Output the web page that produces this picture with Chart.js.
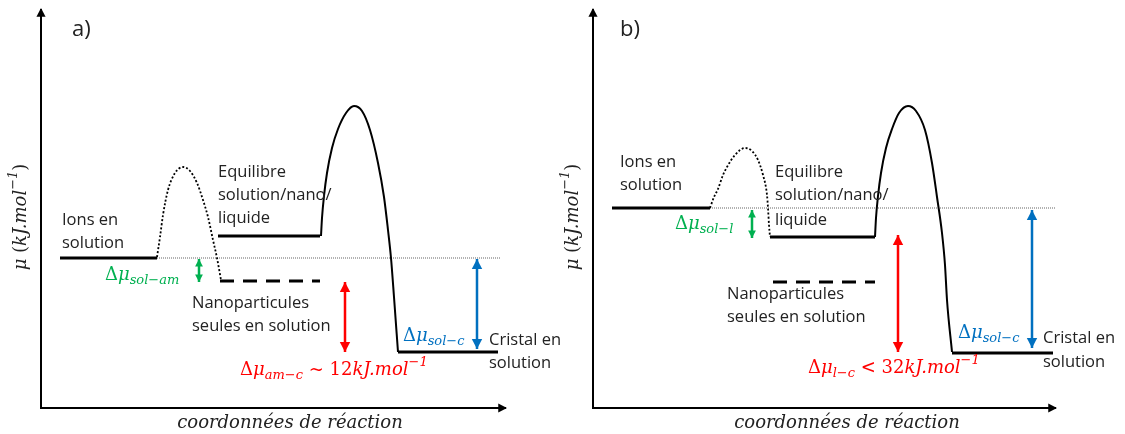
<!DOCTYPE html>
<html>
<head>
<meta charset="utf-8">
<script src="https://cdn.jsdelivr.net/npm/chart.js@4"></script>
<style>
  body { margin: 0; background: #fff; width: 1125px; height: 434px; overflow: hidden; position: relative; }
  .panel { position: absolute; top: 0; height: 434px; }
  #wrapA { left: 0; width: 560px; }
  #wrapB { left: 552px; width: 573px; }
</style>
</head>
<body>
<div class="panel" id="wrapA"><canvas id="chartA" width="560" height="434"></canvas></div>
<div class="panel" id="wrapB"><canvas id="chartB" width="573" height="434"></canvas></div>
<script>
// units: x = reaction coordinate, y = mu (schematic, from the axes origin)

// panel a)
const ionsA = [[19, 150], [116, 150]];
const smallBarrierA = [[116, 151], [119, 171], [122, 193], [127, 218], [134, 235], [142, 241], [149, 237], [156, 225], [162, 208], [167, 191], [172, 168], [176, 150], [180, 128]];
const equilibreA = [[177, 172], [279, 172]];
const bigBarrierA = [[280, 172], [281, 190], [283, 212], [286, 235], [291, 260], [297, 279], [305, 295], [313, 302], [321, 297], [329, 278], [337, 245], [343, 211], [347, 178], [350, 150], [353, 111], [357, 56]];
const nanoA = [[179, 127], [279, 127]];
const cristalA = [[357, 56], [457, 56]];
const refA = [[116, 150], [459, 150]];
const dSolAmA = [[158, 149], [158, 126]];
const dAmCA = [[304, 126], [304, 56]];
const dSolCA = [[436, 149], [436, 59]];

// panel b)
const ionsB = [[19, 200], [117, 200]];
const smallBarrierB = [[117, 200], [121, 211], [125, 219], [130, 233], [134, 241], [142, 253], [152, 260], [159, 257], [165, 248], [170, 233], [174, 213], [175, 200], [176, 183], [177, 171]];
const equilibreB = [[177, 171], [282, 171]];
const bigBarrierB = [[282, 171], [283, 190], [285, 212], [288, 235], [293, 260], [299, 279], [306, 295], [315, 302], [323, 297], [332, 278], [339, 245], [344, 211], [349, 175], [352, 143], [354, 108], [359, 56]];
const nanoB = [[180, 126], [282, 126]];
const cristalB = [[359, 55], [460, 55]];
const refB = [[117, 200], [462, 200]];
const dSolLB = [[159, 198], [159, 170]];
const dLCB = [[305, 173], [305, 56]];
const dSolCB = [[439, 198], [439, 60]];

const GREEN = '#00B050';
const RED = '#FF0000';
const BLUE = '#0070C0';
const INK = '#222';
const SANS = "'Open Sans', sans-serif";
const MATH = "'DejaVu Serif', serif";

const pts = arr => arr.map(([x, y]) => ({ x, y }));

function path(data, color, width, dash, extra) {
  return Object.assign({
    data: pts(data), showLine: true, borderColor: color, borderWidth: width,
    borderDash: dash || [], pointRadius: 0, fill: false, tension: 0
  }, extra || {});
}

function datasets(ions, small, equi, big, nano, cristal, ref, green, red, blue) {
  return [
    path(green, GREEN, 2.5, [], { arrow: 6 }),
    path(red, RED, 2.5, [], { arrow: 8 }),
    path(blue, BLUE, 2.5, [], { arrow: 8 }),
    path(ions, '#000', 3),
    path(equi, '#000', 3),
    path(nano, '#000', 3, [14, 9]),
    path(cristal, '#000', 3),
    path(big, '#000', 2, [], { cubicInterpolationMode: 'monotone' }),
    path(small, '#000', 1.8, [2, 2], { cubicInterpolationMode: 'monotone' }),
    path(ref, '#666', 1, [1, 1])
  ];
}

function head(ctx, tx, ty, fx, fy, size, color) {
  const a = Math.atan2(ty - fy, tx - fx);
  ctx.save();
  ctx.translate(tx, ty);
  ctx.rotate(a);
  ctx.fillStyle = color;
  ctx.beginPath();
  ctx.moveTo(0, 0);
  ctx.lineTo(-size * 1.25, -size * 0.65);
  ctx.lineTo(-size * 1.25, size * 0.65);
  ctx.closePath();
  ctx.fill();
  ctx.restore();
}

const arrowPlugin = {
  id: 'arrows',
  afterDatasetsDraw(chart) {
    const ctx = chart.ctx;
    chart.data.datasets.forEach((ds, i) => {
      if (!ds.arrow) return;
      const p = chart.getDatasetMeta(i).data;
      const a = p[0], b = p[p.length - 1];
      head(ctx, a.x, a.y, b.x, b.y, ds.arrow, ds.borderColor);
      head(ctx, b.x, b.y, a.x, a.y, ds.arrow, ds.borderColor);
    });
    // axis arrow tips
    const { left, right, top, bottom } = chart.chartArea;
    head(ctx, left, top - 2, left, bottom, 7, '#000');
    head(ctx, right + 2, bottom, left, bottom, 7, '#000');
  }
};

function runFont(k) {
  if (k === 'up') return '18px ' + MATH;
  if (k === 'it') return 'italic 18px ' + MATH;
  return 'italic 13px ' + MATH;
}

function drawRich(ctx, runs, x, y, align) {
  ctx.textBaseline = 'middle';
  ctx.textAlign = 'left';
  let w = 0;
  runs.forEach(([t, k]) => { ctx.font = runFont(k); w += ctx.measureText(t).width; });
  let cx = align === 'center' ? x - w / 2 : x;
  runs.forEach(([t, k]) => {
    ctx.font = runFont(k);
    const dy = k === 'sub' ? 6 : k === 'sup' ? -7 : 0;
    ctx.fillText(t, cx, y + dy);
    cx += ctx.measureText(t).width;
  });
}

const notesPlugin = {
  id: 'notes',
  afterDraw(chart, args, opts) {
    const ctx = chart.ctx;
    const xs = chart.scales.x, ys = chart.scales.y;
    (opts.items || []).forEach(n => {
      const px = xs.getPixelForValue(n.x), py = ys.getPixelForValue(n.y);
      ctx.save();
      ctx.fillStyle = n.color || INK;
      if (n.runs) {
        if (n.rotate) {
          ctx.translate(px, py);
          ctx.rotate(-Math.PI / 2);
          drawRich(ctx, n.runs, 0, 0, 'center');
        } else {
          drawRich(ctx, n.runs, px, py, n.align);
        }
      } else {
        ctx.font = n.font || '16.5px ' + SANS;
        ctx.textBaseline = 'middle';
        ctx.textAlign = 'left';
        ctx.fillText(n.text, px, py);
      }
      ctx.restore();
    });
  }
};

const yLabel = [['μ', 'it'], [' (', 'up'], ['kJ.mol', 'it'], ['−1', 'sup'], [')', 'up']];
const xLabel = [['coordonnées de réaction', 'it']];

const notesA = [
  { x: 31, y: 378, text: 'a)', font: '22px ' + SANS },
  { x: 21, y: 188, text: 'Ions en' },
  { x: 21, y: 165, text: 'solution' },
  { x: 177, y: 236, text: 'Equilibre' },
  { x: 177, y: 213, text: 'solution/nano/' },
  { x: 177, y: 190, text: 'liquide' },
  { x: 151, y: 105, text: 'Nanoparticules' },
  { x: 151, y: 82, text: 'seules en solution' },
  { x: 448, y: 68, text: 'Cristal en' },
  { x: 448, y: 45, text: 'solution' },
  { x: 64, y: 133, color: GREEN, runs: [['Δ', 'up'], ['μ', 'it'], ['sol−am', 'sub']] },
  { x: 199, y: 38, color: RED, runs: [['Δ', 'up'], ['μ', 'it'], ['am−c', 'sub'], [' ~ 12', 'up'], ['kJ.mol', 'it'], ['−1', 'sup']] },
  { x: 362, y: 72, color: BLUE, runs: [['Δ', 'up'], ['μ', 'it'], ['sol−c', 'sub']] },
  { x: -20, y: 191, rotate: true, runs: yLabel },
  { x: 249, y: -15, align: 'center', runs: xLabel }
];

const notesB = [
  { x: 27, y: 378, text: 'b)', font: '22px ' + SANS },
  { x: 27, y: 246, text: 'Ions en' },
  { x: 27, y: 223, text: 'solution' },
  { x: 182, y: 236, text: 'Equilibre' },
  { x: 182, y: 213, text: 'solution/nano/' },
  { x: 182, y: 188, text: 'liquide' },
  { x: 134, y: 114, text: 'Nanoparticules' },
  { x: 134, y: 91, text: 'seules en solution' },
  { x: 450, y: 70, text: 'Cristal en' },
  { x: 450, y: 46, text: 'solution' },
  { x: 82, y: 184, color: GREEN, runs: [['Δ', 'up'], ['μ', 'it'], ['sol−l', 'sub']] },
  { x: 215, y: 40, color: RED, runs: [['Δ', 'up'], ['μ', 'it'], ['l−c', 'sub'], [' < 32', 'up'], ['kJ.mol', 'it'], ['−1', 'sup']] },
  { x: 365, y: 75, color: BLUE, runs: [['Δ', 'up'], ['μ', 'it'], ['sol−c', 'sub']] },
  { x: -20, y: 191, rotate: true, runs: yLabel },
  { x: 254, y: -15, align: 'center', runs: xLabel }
];

function axis(max) {
  return {
    type: 'linear', min: 0, max: max,
    grid: { display: false, drawTicks: false },
    ticks: { display: false },
    border: { display: true, color: '#000', width: 2 }
  };
}

function makeChart(id, sets, xMax, padRight, notes) {
  return new Chart(document.getElementById(id), {
    type: 'scatter',
    data: { datasets: sets },
    options: {
      responsive: false,
      animation: false,
      events: [],
      layout: { padding: { left: 41, right: padRight, top: 10, bottom: 26 } },
      scales: { x: axis(xMax), y: axis(398) },
      plugins: { legend: { display: false }, tooltip: { enabled: false }, notes: { items: notes } }
    },
    plugins: [arrowPlugin, notesPlugin]
  });
}

makeChart('chartA', datasets(ionsA, smallBarrierA, equilibreA, bigBarrierA, nanoA, cristalA, refA, dSolAmA, dAmCA, dSolCA), 464, 55, notesA);
makeChart('chartB', datasets(ionsB, smallBarrierB, equilibreB, bigBarrierB, nanoB, cristalB, refB, dSolLB, dLCB, dSolCB), 462, 70, notesB);
</script>
</body>
</html>
